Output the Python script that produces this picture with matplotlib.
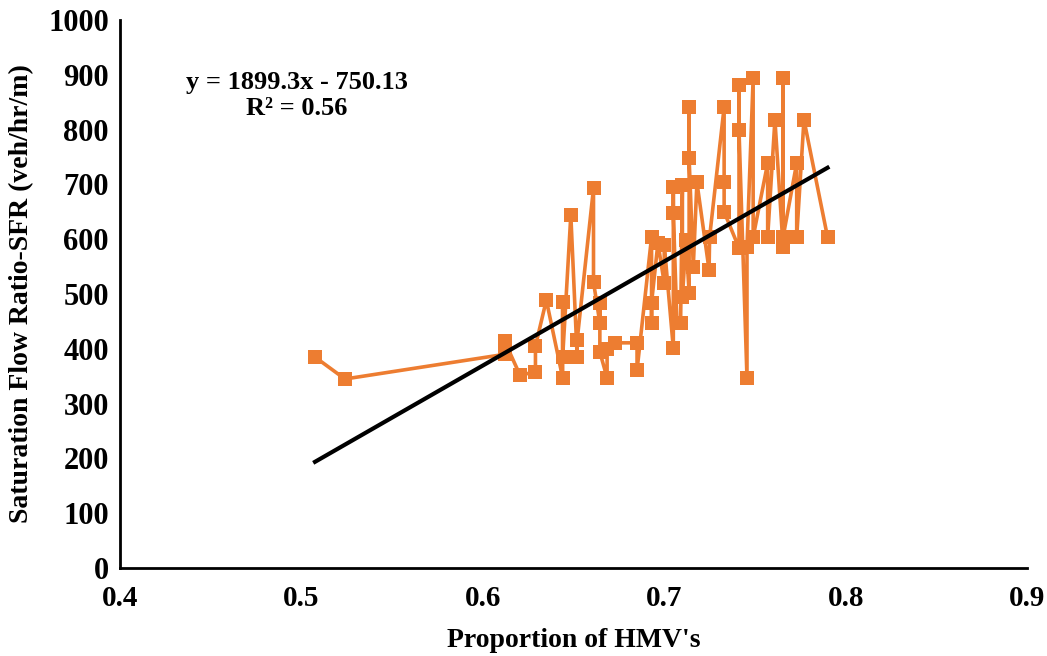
import matplotlib.pyplot as plt
import numpy as np

plt.rcParams['font.family'] = ['Liberation Serif', 'DejaVu Serif']
plt.rcParams['font.weight'] = 'bold'

# proportion of HMV's vs saturation flow ratio, in recorded order
hmv = [0.5075, 0.524, 0.612, 0.612, 0.6205, 0.629, 0.629, 0.635, 0.644, 0.644,
       0.644, 0.6485, 0.652, 0.652, 0.661, 0.661, 0.6645, 0.6645, 0.6645, 0.6685,
       0.6685, 0.673, 0.685, 0.685, 0.693, 0.693, 0.693, 0.6965, 0.700, 0.700,
       0.705, 0.705, 0.705, 0.707, 0.709, 0.710, 0.710, 0.712, 0.7137, 0.7137,
       0.7137, 0.716, 0.718, 0.7247, 0.725, 0.733, 0.733, 0.733, 0.7412, 0.7412,
       0.7412, 0.7456, 0.7456, 0.749, 0.749, 0.757, 0.757, 0.761, 0.7655, 0.7655,
       0.7655, 0.773, 0.773, 0.777, 0.79]
sfr = [385, 345, 390, 414, 352, 358, 405, 489, 347, 485,
       385, 644, 385, 416, 693, 522, 447, 484, 394, 347,
       400, 411, 411, 361, 604, 447, 484, 593, 520, 590,
       401, 695, 648, 447, 447, 699, 495, 598, 502, 841,
       748, 550, 704, 544, 604, 841, 704, 650, 584, 881,
       799, 347, 586, 894, 604, 739, 604, 818, 586, 894,
       604, 739, 604, 818, 604]

trend_slope = 1899.3
trend_intercept = -770.0
eq_text = "y = 1899.3x - 750.13\nR² = 0.56"

fig = plt.figure(figsize=(10.47, 6.56), dpi=100)
ax = fig.add_axes([0.1146, 0.134, 0.8664, 0.8355])

ax.plot(hmv, sfr, color='#ED7D31', lw=2.6, marker='s', ms=10,
        markeredgewidth=0, zorder=2)

tx = np.array([min(hmv), max(hmv)])
ax.plot(tx, trend_slope * tx + trend_intercept, color='black', lw=3, zorder=3)

ax.text(0.4975, 862, eq_text, ha='center', va='center', fontsize=19,
        fontweight='bold', linespacing=1.15)

ax.set_xlim(0.4, 0.9)
ax.set_ylim(0, 1000)
ax.set_xticks(np.arange(0.4, 0.91, 0.1))
ax.set_xticklabels(['0.4', '0.5', '0.6', '0.7', '0.8', '0.9'])
ax.set_yticks(np.arange(0, 1001, 100))
ax.tick_params(length=0)
ax.tick_params(axis='y', labelsize=22, pad=8)
ax.tick_params(axis='x', labelsize=21, pad=12)
for lab in ax.get_xticklabels() + ax.get_yticklabels():
    lab.set_fontweight('bold')

for s in ['top', 'right']:
    ax.spines[s].set_visible(False)
for s in ['left', 'bottom']:
    ax.spines[s].set_linewidth(2)
    ax.spines[s].set_color('black')

ax.set_xlabel("Proportion of HMV's", fontsize=20, fontweight='bold', labelpad=12)
ax.set_ylabel("Saturation Flow Ratio-SFR (veh/hr/m)", fontsize=20,
              fontweight='bold', labelpad=10)

fig.savefig('out.png', dpi=100)
